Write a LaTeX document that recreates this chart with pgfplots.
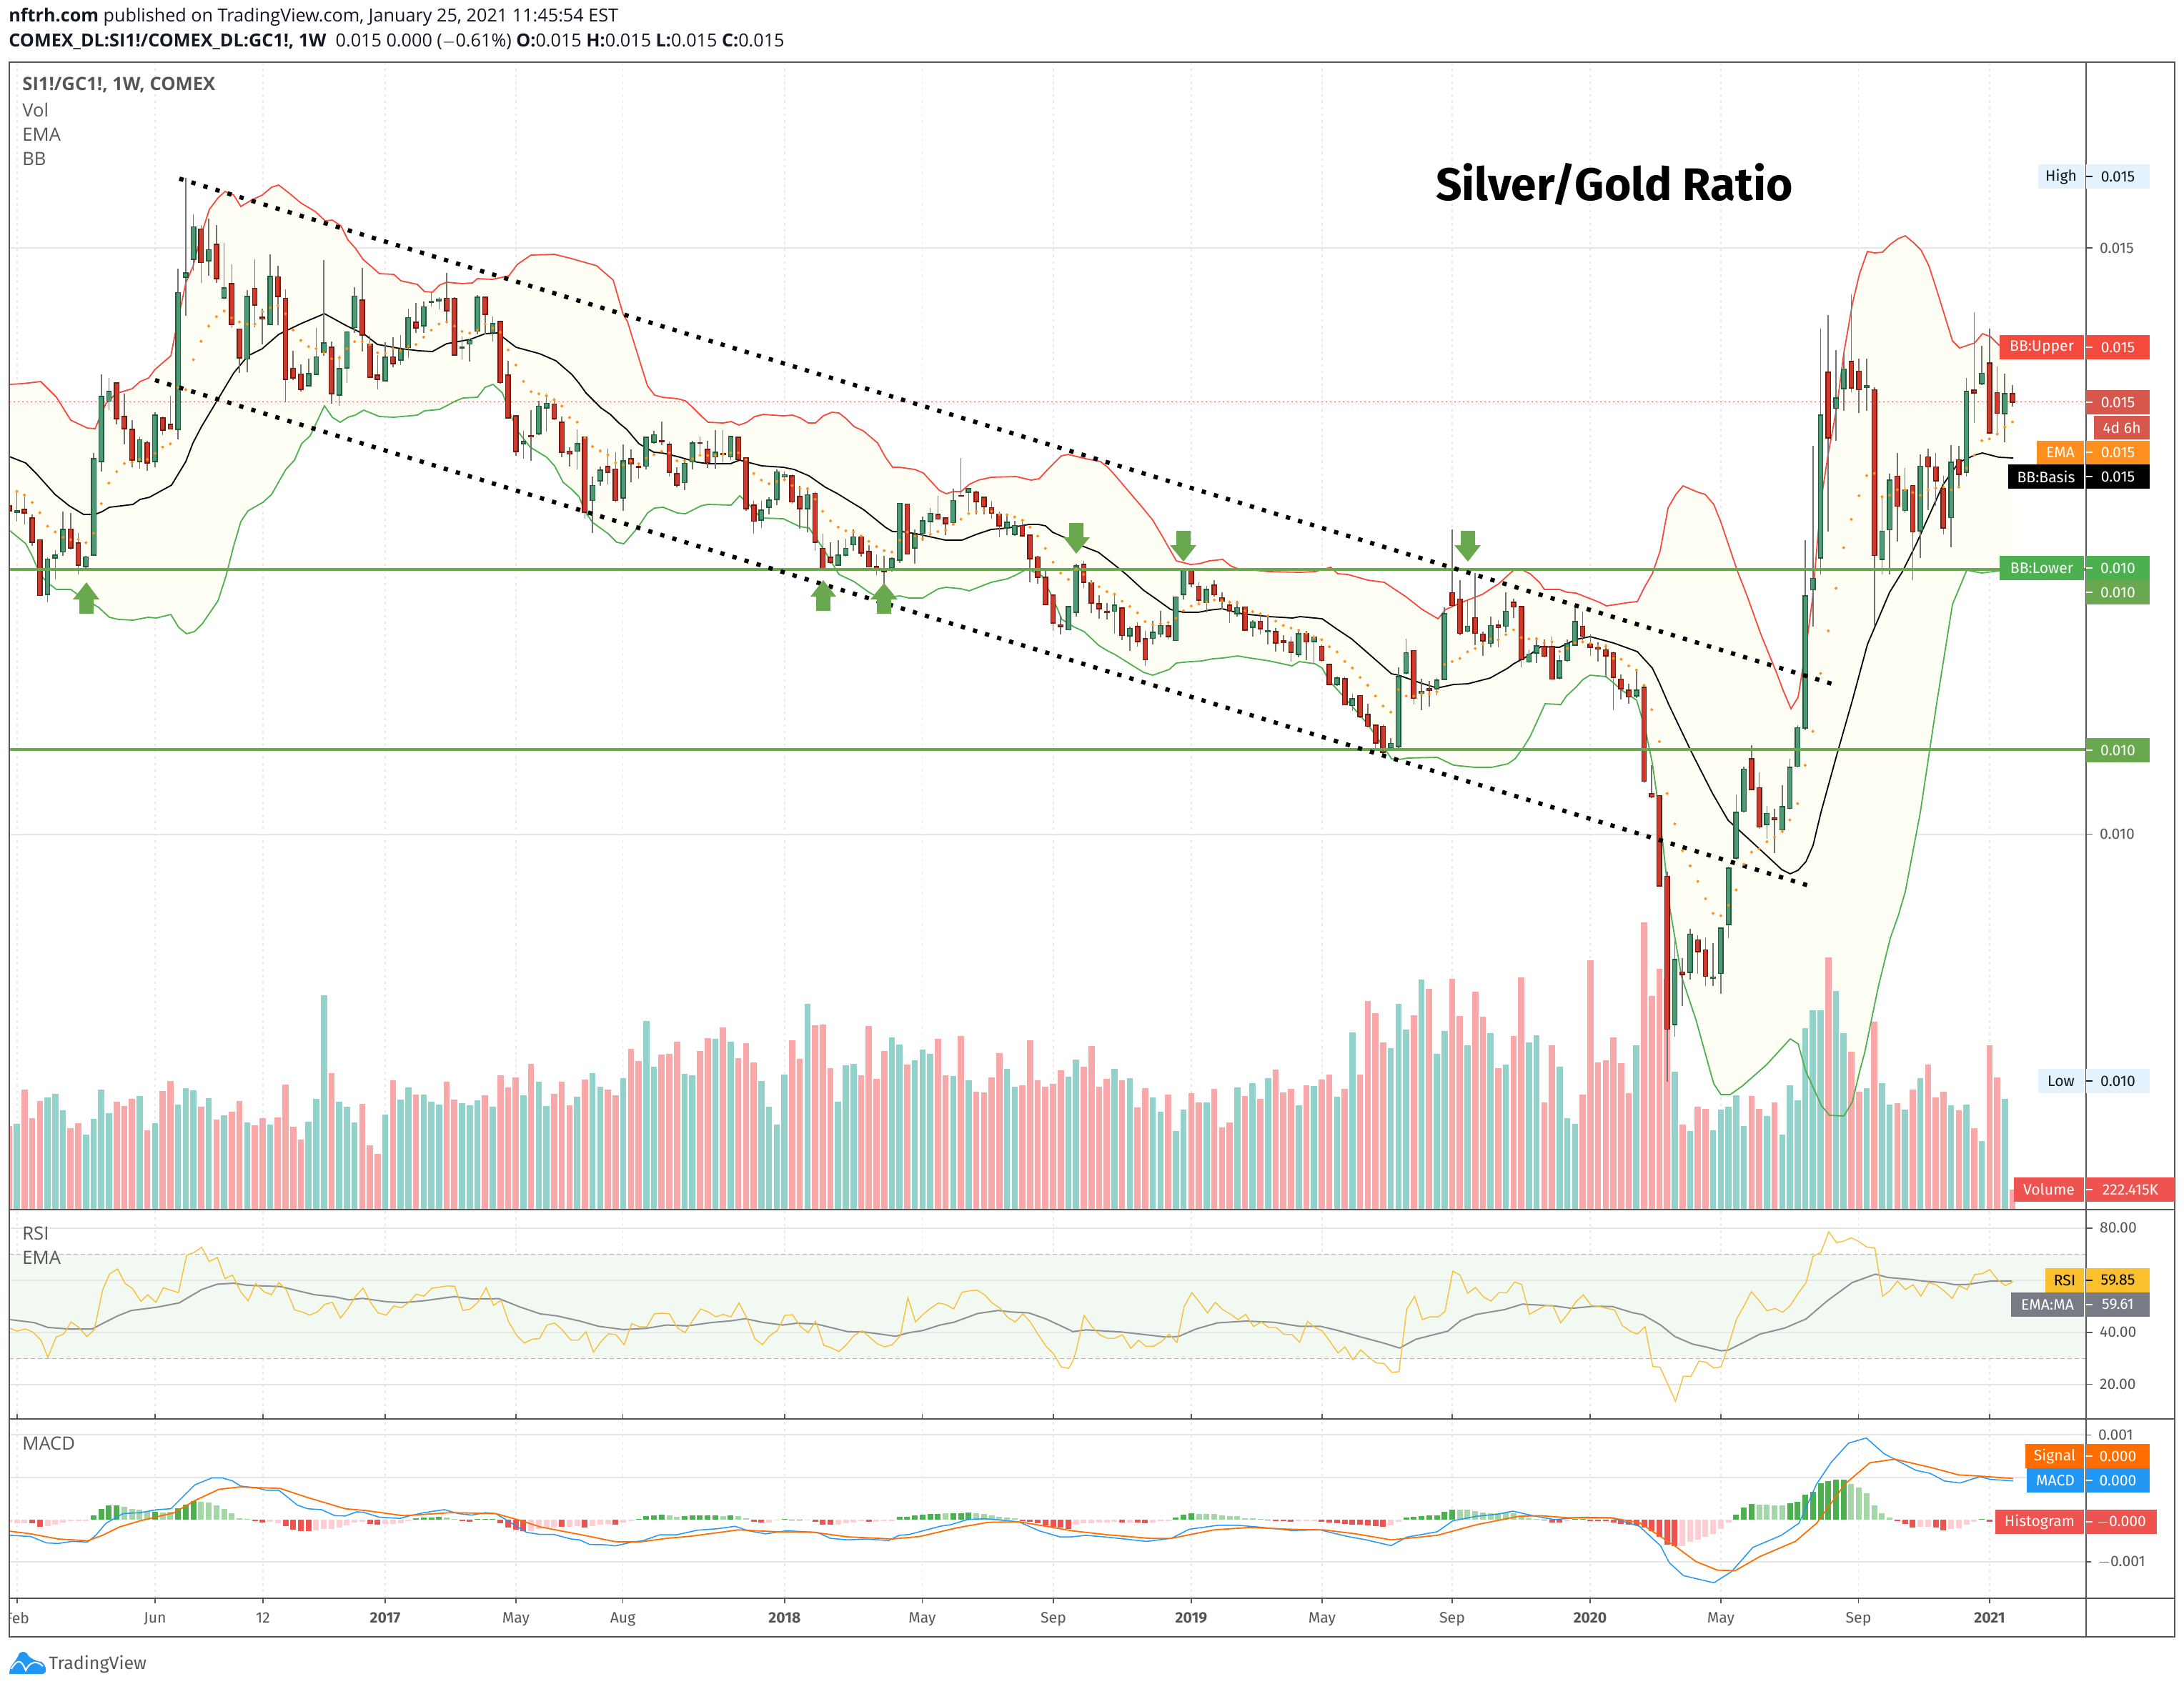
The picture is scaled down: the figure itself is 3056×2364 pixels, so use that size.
\documentclass[border=0pt]{standalone}
\usepackage{fontspec}
\setmainfont{Fira Sans}
\newfontfamily\hdr{Open Sans}
\usepackage{pgfplots}
\usepackage{pgfplotstable}
\pgfplotsset{compat=1.18}
\definecolor{upF}{HTML}{4F9A74}\definecolor{upB}{HTML}{1F5A3C}
\definecolor{dnF}{HTML}{D03A2C}\definecolor{dnB}{HTML}{6E1A12}
\definecolor{wick}{HTML}{737373}
\definecolor{volU}{HTML}{92D2CB}\definecolor{volD}{HTML}{F8A8A8}
\definecolor{bbU}{HTML}{F44A3E}\definecolor{bbL}{HTML}{4CAF50}\definecolor{bbF}{HTML}{FFFEF5}
\definecolor{ema}{HTML}{FF8F1F}\definecolor{gline}{HTML}{6AA84F}
\definecolor{frame}{HTML}{555555}\definecolor{gridc}{HTML}{E6E6E6}
\definecolor{tv}{HTML}{555555}\definecolor{rsi}{HTML}{F6BF36}\definecolor{rsiE}{HTML}{8E9094}
\definecolor{rsiF}{HTML}{F2F9F2}\definecolor{macd}{HTML}{2196F3}\definecolor{sig}{HTML}{FF6D00}
\definecolor{h1}{HTML}{4CAF50}\definecolor{h2}{HTML}{A5D6A7}\definecolor{h3}{HTML}{EF5350}\definecolor{h4}{HTML}{FFCDD2}
\pgfplotstableread{
k o h l c e v
-1 1233 1233 1245 1245 1185 678
0 1250 1195 1272 1245 1198 669
1 1242 1205 1278 1251 1207 525
2 1263 1255 1330 1322 1225 645
3 1316 1316 1452 1452 1250 573
4 1449 1358 1468 1363 1283 558
5 1360 1342 1413 1353 1297 543
6 1346 1247 1355 1291 1310 612
7 1290 1250 1340 1336 1316 687
8 1324 1300 1400 1378 1315 666
9 1381 1355 1392 1358 1323 714
10 1354 1105 1355 1118 1300 648
11 1125 912 1150 967 1228 525
12 978 922 1000 955 1178 624
13 934 934 1035 1021 1150 576
14 1016 960 1083 1045 1130 594
15 1047 1025 1140 1122 1128 564
16 1125 1065 1142 1072 1120 552
17 1079 1075 1148 1129 1120 696
18 1125 1005 1140 1012 1105 666
19 1019 1015 1060 1049 1090 531
20 1035 965 1046 1046 1082 489
21 1047 655 1072 713 945 588
22 676 433 770 665 950 519
23 632 522 660 553 877 528
24 558 548 690 640 832 597
25 636 533 673 609 795 561
26 596 548 690 679 772 651
27 726 593 730 702 758 633
28 692 645 800 791 775 618
29 802 802 910 873 785 573
30 875 708 907 723 790 663
31 703 632 797 744 790 675
32 773 752 840 777 760 645
33 791 620 792 674 750 672
34 675 648 793 723 745 642
35 727 705 980 925 765 504
36 898 855 927 921 805 681
37 912 888 955 949 830 735
38 941 875 943 911 845 660
39 913 800 915 870 850 564
40 859 634 868 836 860 129
41 847 832 985 960 875 456
42 963 868 990 899 872 576
43 897 808 933 809 850 597
44 799 700 812 722 833 663
45 732 654 857 817 833 585
46 839 818 920 920 840 759
47 915 865 950 925 860 795
48 928 835 930 871 862 630
49 870 822 895 887 850 486
50 878 817 890 853 855 567
51 847 752 873 774 845 516
52 786 738 812 800 840 546
53 794 735 812 748 822 546
54 738 710 748 734 805 576
55 733 725 755 729 790 588
56 727 666 786 758 785 492
57 727 725 866 866 795 567
58 849 820 877 847 808 582
59 839 825 882 830 812 591
60 806 720 815 725 805 570
61 725 725 815 766 790 549
62 811 772 833 789 800 597
63 784 782 935 933 810 465
64 915 880 1020 1019 853 516
65 1014 1012 1112 1101 890 474
66 1082 1050 1118 1077 930 549
67 1062 1000 1123 1065 955 417
68 1057 978 1060 990 960 492
69 995 960 1052 983 965 594
70 985 970 1025 1021 975 543
71 1029 1015 1115 1103 990 492
72 1100 1090 1138 1107 1018 591
}\secA
\pgfplotstableread{
k o h l c e v
73 474 395 540 446 368 555
74 423 423 720 698 425 483
75 654 568 773 600 457 456
76 583 530 600 543 473 513
77 530 465 595 552 488 525
78 540 478 662 654 517 549
79 646 450 693 509 525 477
80 501 468 588 521 510 354
81 530 515 575 533 520 405
82 529 420 540 423 500 237
83 442 400 448 414 487 429
84 436 366 452 439 475 378
85 449 440 566 552 480 375
86 556 533 605 599 509 324
87 589 503 616 519 510 459
88 513 437 541 444 502 465
89 443 420 490 445 489 363
90 467 436 535 516 490 309
91 495 397 537 478 490 312
92 484 397 515 487 485 264
93 495 418 507 420 480 324
94 423 423 507 505 480 393
95 499 499 692 685 505 330
96 671 655 775 730 556 411
97 727 655 755 689 580 489
98 680 643 705 653 593 597
99 651 542 672 550 585 672
100 568 548 585 560 578 462
101 564 558 665 660 600 318
102 640 602 757 685 610 396
103 685 605 772 634 612 165
104 628 622 840 808 650 255
105 830 776 907 905 694 252
106 862 808 885 881 729 435
107 891 800 893 854 752 576
108 855 793 860 830 765 423
109 816 760 840 788 770 417
110 788 780 860 847 785 465
111 841 818 900 897 804 258
112 896 853 928 907 823 480
113 911 858 960 915 838 363
114 902 862 915 867 843 306
115 873 665 882 665 800 336
116 668 668 852 850 770 420
117 829 760 885 778 785 402
118 775 712 803 729 795 357
119 732 683 780 702 778 375
120 705 638 725 722 768 312
121 718 718 780 740 763 465
122 735 612 745 655 742 468
123 636 500 640 639 723 300
124 625 610 695 611 702 486
125 624 618 705 659 695 534
126 642 640 705 677 690 537
127 681 657 720 701 695 474
128 705 695 790 748 705 372
129 755 710 780 734 707 438
130 779 728 785 746 715 513
131 746 722 787 784 727 507
132 781 781 953 868 752 318
133 861 856 960 936 785 486
134 935 910 1036 1035 830 513
135 1000 1000 1132 1103 880 501
136 1109 1077 1145 1116 920 444
137 1127 1040 1130 1042 943 471
138 1063 885 1078 893 905 399
139 888 875 975 954 925 429
140 956 947 1065 1030 955 342
141 1032 1002 1086 1051 970 513
142 1059 1030 1090 1064 988 480
143 1059 995 1142 1037 997 438
144 1047 1045 1165 1148 1023 486
145 1150 1117 1205 1122 1042 477
146 1115 1100 1188 1171 1065 600
}\secB
\pgfplotstableread{
k o h l c e v
147 403 385 465 451 363 519
148 402 362 415 388 370 558
149 392 338 400 372 367 618
150 373 365 405 398 365 546
151 407 306 408 306 355 699
152 300 240 312 240 338 609
153 245 245 283 276 327 540
154 281 272 320 313 322 579
155 319 280 342 289 318 579
156 279 267 305 301 313 522
157 308 295 335 316 315 684
158 325 315 366 338 318 663
159 345 315 352 331 320 516
160 329 328 385 383 338 552
161 376 360 398 364 340 498
162 362 345 392 379 345 564
163 387 350 415 384 350 477
164 386 377 433 412 362 441
165 408 394 433 411 372 537
166 410 398 456 434 378 522
167 439 382 445 391 383 591
168 390 385 452 410 390 507
169 409 395 460 399 400 510
170 420 415 455 453 405 483
171 462 460 510 508 421 462
172 508 490 512 493 433 555
173 495 490 555 555 455 522
174 557 530 570 541 470 285
175 534 533 585 582 492 462
176 577 553 607 605 510 153
177 602 602 660 643 535 204
178 605 600 668 665 558 327
179 654 632 658 644 572 351
180 652 468 655 490 520 165
181 482 402 485 435 535 273
182 430 430 555 540 535 213
183 529 495 568 524 530 63
184 518 500 560 521 530 102
185 518 493 533 498 525 375
186 497 330 498 345 462 279
187 296 150 330 326 455 60
188 311 267 395 390 448 216
189 385 315 387 374 433 339
190 354 250 418 390 425 114
191 392 386 442 408 415 219
192 413 352 423 372 403 288
193 371 360 422 377 405 435
194 374 295 388 339 393 420
195 318 310 355 329 382 300
196 328 328 468 450 400 54
197 456 428 458 438 403 327
198 436 400 458 419 403 297
199 421 405 445 443 412 579
200 421 398 497 496 410 339
201 493 440 497 454 432 429
202 453 405 455 414 425 645
203 417 327 418 363 412 669
204 374 340 410 397 410 546
205 415 392 442 422 413 -18
206 423 410 455 426 420 411
207 428 415 492 442 420 402
208 435 432 568 492 448 306
209 496 485 542 518 450 414
210 521 507 552 537 465 540
211 535 472 540 521 475 339
212 515 514 736 732 510 -177
213 760 695 770 768 566 132
214 765 765 974 973 640 18
215 951 940 1425 1304 760 60
216 1294 1100 1322 1143 830 450
217 1172 1140 1250 1178 892 672
218 1173 1072 1190 1085 927 699
219 1098 1088 1177 1125 963 597
220 1121 1092 1205 1182 1003 606
221 1187 1105 1205 1184 1037 696
}\secC
\pgfplotstableread{
k o h l c e v
222 1415 1330 1452 1332 1309 609
223 1325 1220 1350 1222 1290 597
224 1204 1088 1206 1120 1262 549
225 1118 1037 1120 1041 1215 678
226 1022 997 1080 1078 1193 552
227 1075 1047 1150 1147 1187 606
228 1142 1108 1168 1122 1174 636
229 1130 1113 1195 1133 1165 579
230 1152 1070 1158 1110 1155 714
231 1113 1022 1115 1038 1134 507
232 1036 960 1038 965 1104 570
233 966 622 970 724 1034 267
234 713 450 780 692 972 192
235 655 235 685 393 866 192
236 315 210 607 435 788 -30
237 381 275 440 362 710 111
238 345 280 385 309 636 288
239 295 173 352 344 584 366
240 313 290 390 347 541 534
241 343 290 385 340 504 519
242 347 343 780 650 500 240
243 657 540 685 606 543 498
244 603 500 685 512 540 588
245 505 463 625 560 530 582
246 568 490 572 530 530 609
247 522 522 695 607 535 525
248 605 465 655 487 540 477
249 470 455 567 488 530 420
250 488 463 560 514 527 558
251 528 505 612 600 525 534
252 581 448 635 480 530 591
253 475 450 527 502 525 612
254 498 325 506 350 490 588
255 348 205 408 353 467 687
256 336 267 338 317 440 741
257 298 235 428 426 437 339
258 352 305 430 390 428 474
259 391 317 443 354 415 564
260 354 338 378 370 406 945
}\secD
\pgfplotstableread[row sep=\\]{x y\\13 538\\31 537\\57 534\\79 556\\99 588\\122 599\\133 600\\148 565\\162 551\\185 544\\196 534\\208 529\\217 517\\239 498\\249 448\\260 396\\270 373\\282 327\\293 293\\305 277\\315 268\\327 273\\337 289\\352 280\\367 273\\380 262\\390 259\\403 269\\421 284\\441 296\\455 309\\465 308\\477 316\\487 336\\497 347\\508 363\\531 383\\551 384\\561 393\\584 398\\594 408\\605 409\\615 399\\625 395\\647 397\\661 396\\668 390\\689 391\\712 386\\724 370\\743 357\\776 356\\800 362\\835 372\\858 392\\872 440\\878 450\\891 492\\906 540\\916 553\\927 556\\948 558\\959 561\\968 569\\981 582\\991 591\\1012 592\\1023 590\\1034 595\\1045 591\\1056 583\\1068 580\\1096 582\\1109 581\\1120 585\\1131 592\\1141 592\\1152 582\\1164 577\\1174 578\\1184 586\\1195 597\\1208 603\\1228 620\\1239 640\\1249 654\\1259 654\\1280 657\\1292 662\\1314 686\\1324 691\\1334 688\\1345 688\\1356 678\\1369 672\\1387 668\\1422 667\\1443 672\\1454 670\\1468 655\\1485 638\\1495 636\\1519 642\\1540 646\\1550 654\\1560 665\\1600 712\\1613 728\\1626 750\\1646 785\\1666 790\\1678 789\\1692 785\\1711 783\\1722 792\\1732 796\\1776 800\\1819 801\\1840 800\\1862 794\\1872 803\\1886 804\\1914 812\\1937 815\\1967 835\\1990 853\\2012 866\\2023 853\\2043 844\\2074 832\\2097 817\\2118 798\\2131 798\\2141 803\\2154 815\\2161 825\\2182 825\\2193 829\\2205 830\\2238 843\\2248 848\\2268 845\\2281 843\\2291 842\\2302 820\\2312 803\\2323 771\\2334 711\\2345 692\\2355 680\\2376 689\\2386 692\\2398 706\\2408 731\\2431 799\\2445 835\\2464 888\\2486 942\\2495 966\\2506 992\\2516 976\\2527 907\\2536 839\\2548 701\\2558 636\\2570 571\\2580 494\\2592 425\\2602 383\\2613 352\\2623 354\\2634 353\\2645 342\\2656 334\\2666 330\\2678 340\\2688 350\\2699 372\\2710 406\\2732 477\\2742 487\\2763 480\\2774 467\\2785 471\\2797 483\\2817 488\\}\tabU
\pgfplotstableread[row sep=\\]{x y\\13 742\\36 761\\45 778\\56 804\\66 815\\79 825\\99 825\\117 838\\138 850\\153 864\\166 867\\186 868\\207 864\\219 865\\239 860\\250 878\\261 887\\272 884\\283 873\\305 841\\316 807\\327 764\\337 730\\347 715\\368 703\\380 692\\400 657\\412 644\\422 621\\434 610\\454 568\\465 584\\476 591\\487 584\\497 581\\509 574\\531 583\\551 584\\584 581\\594 575\\615 573\\638 561\\648 557\\668 556\\679 542\\690 538\\703 550\\712 574\\724 603\\742 626\\765 640\\776 652\\788 675\\800 685\\810 695\\820 718\\829 731\\851 747\\863 759\\873 761\\892 739\\906 718\\916 711\\928 710\\948 718\\959 719\\981 708\\990 706\\1023 707\\1035 694\\1045 703\\1065 725\\1096 726\\1119 737\\1132 739\\1152 768\\1174 804\\1195 814\\1216 829\\1231 837\\1259 834\\1272 837\\1291 837\\1313 824\\1324 822\\1345 824\\1356 827\\1387 815\\1410 810\\1423 804\\1438 796\\1458 806\\1473 837\\1486 867\\1502 877\\1517 884\\1537 903\\1550 911\\1560 916\\1576 926\\1600 941\\1613 945\\1636 937\\1646 928\\1666 926\\1682 925\\1697 922\\1711 921\\1732 918\\1743 920\\1776 925\\1808 932\\1818 926\\1840 929\\1850 935\\1860 953\\1882 977\\1914 1014\\1937 1047\\1947 1062\\1957 1063\\1970 1061\\2011 1060\\2034 1071\\2064 1074\\2087 1074\\2110 1069\\2120 1062\\2133 1044\\2141 1031\\2162 985\\2184 986\\2192 974\\2205 962\\2215 951\\2225 945\\2247 947\\2258 956\\2268 965\\2290 980\\2302 1020\\2312 1068\\2319 1117\\2327 1183\\2337 1274\\2353 1367\\2373 1427\\2398 1517\\2408 1532\\2421 1532\\2438 1520\\2472 1490\\2505 1454\\2516 1461\\2527 1500\\2549 1548\\2560 1561\\2580 1562\\2592 1542\\2602 1500\\2609 1474\\2628 1382\\2645 1313\\2656 1282\\2666 1248\\2687 1137\\2710 984\\2732 846\\2752 798\\2773 802\\2797 799\\2817 789\\}\tabL
\pgfplotstableread[row sep=\\]{x y\\13 639\\36 648\\51 663\\77 692\\97 708\\117 720\\133 720\\143 716\\153 710\\186 706\\196 699\\209 696\\240 679\\260 646\\270 620\\282 597\\306 557\\327 522\\347 498\\367 488\\390 468\\421 453\\454 439\\485 456\\510 468\\528 482\\561 488\\587 491\\605 492\\625 481\\658 475\\679 467\\696 466\\722 486\\755 495\\778 505\\800 524\\810 536\\820 550\\841 571\\854 580\\866 592\\877 601\\894 621\\915 633\\927 634\\948 639\\976 647\\991 649\\1022 649\\1035 644\\1066 652\\1096 654\\1111 657\\1132 666\\1155 682\\1172 691\\1193 704\\1208 713\\1239 738\\1249 744\\1262 744\\1282 747\\1323 756\\1346 756\\1366 748\\1387 741\\1410 739\\1440 734\\1453 734\\1463 736\\1473 745\\1489 752\\1514 764\\1537 773\\1560 791\\1576 804\\1600 826\\1620 840\\1638 853\\1656 857\\1677 857\\1692 854\\1710 852\\1738 859\\1776 863\\1809 865\\1819 863\\1850 866\\1870 880\\1891 894\\1914 914\\1947 943\\1957 945\\1988 956\\2011 963\\2034 958\\2054 957\\2085 949\\2110 935\\2118 929\\2138 918\\2156 905\\2182 906\\2205 895\\2225 891\\2258 900\\2291 912\\2312 935\\2322 956\\2335 986\\2367 1053\\2396 1110\\2418 1148\\2440 1168\\2464 1190\\2493 1217\\2505 1223\\2516 1218\\2527 1206\\2537 1183\\2548 1137\\2570 1057\\2592 980\\2613 902\\2644 829\\2662 800\\2681 762\\2700 720\\2719 678\\2741 647\\2763 637\\2774 634\\2797 640\\2817 641\\}\tabB
\pgfplotstableread[row sep=\\]{x y\\14 375\\25 385\\37 378\\48 388\\60 415\\70 472\\82 405\\93 395\\104 355\\115 372\\127 403\\138 380\\150 250\\160 197\\172 180\\183 228\\194 245\\206 287\\216 265\\228 290\\239 242\\250 250\\261 258\\273 135\\284 125\\295 108\\306 155\\318 142\\329 212\\340 200\\352 255\\363 285\\374 228\\386 255\\397 265\\408 225\\419 250\\431 315\\442 322\\453 332\\464 322\\475 297\\486 290\\498 342\\509 310\\520 270\\531 243\\542 290\\553 325\\565 332\\576 302\\587 308\\598 290\\609 263\\620 270\\632 243\\643 240\\654 236\\665 237\\677 317\\688 312\\699 290\\711 242\\722 300\\733 283\\744 355\\756 400\\767 425\\778 412\\789 410\\800 365\\811 358\\822 380\\835 415\\846 415\\857 387\\868 455\\879 420\\890 394\\901 397\\913 430\\924 360\\935 371\\946 371\\957 328\\968 326\\979 328\\991 375\\1002 390\\1013 350\\1025 312\\1036 322\\1047 338\\1058 330\\1069 338\\1081 292\\1092 340\\1104 410\\1115 430\\1126 400\\1137 383\\1148 333\\1159 331\\1171 370\\1182 390\\1193 352\\1205 432\\1216 440\\1227 453\\1238 430\\1249 400\\1261 384\\1272 405\\1283 427\\1294 437\\1305 430\\1317 400\\1328 275\\1339 355\\1350 330\\1362 308\\1373 292\\1384 298\\1395 312\\1407 257\\1418 252\\1429 250\\1440 265\\1451 292\\1463 310\\1474 340\\1485 355\\1496 328\\1507 355\\1518 395\\1530 435\\1541 460\\1552 503\\1563 508\\1568 490\\}\rsiA
\pgfplotstableread[row sep=\\]{x y\\0 490\\6 450\\17 333\\28 370\\39 397\\50 409\\60 409\\71 397\\83 442\\94 415\\104 435\\115 435\\126 420\\137 395\\148 423\\158 305\\169 258\\180 290\\191 325\\202 290\\213 315\\223 328\\234 347\\245 330\\256 370\\267 355\\277 373\\288 373\\299 396\\310 396\\321 422\\332 353\\342 372\\353 385\\364 420\\375 457\\385 437\\396 480\\407 447\\418 470\\429 490\\440 492\\451 521\\461 519\\472 313\\483 270\\494 347\\505 338\\516 338\\526 320\\537 187\\547 200\\558 260\\569 241\\580 272\\591 286\\602 258\\613 258\\624 223\\634 231\\645 330\\656 315\\667 301\\678 301\\689 358\\700 325\\710 290\\721 265\\732 300\\743 303\\754 310\\765 315\\776 367\\787 385\\797 395\\808 370\\819 502\\829 504\\840 560\\851 617\\862 534\\873 534\\884 484\\894 488\\905 507\\915 503\\926 430\\937 345\\948 300\\958 255\\969 285\\980 318\\991 310\\1002 323\\1013 300\\1024 260\\1035 225\\1045 138\\1056 125\\1067 57\\1078 93\\1088 88\\1099 77\\1110 90\\1121 108\\1132 110\\1143 270\\1153 252\\1164 220\\1175 248\\1186 232\\1197 270\\1208 225\\1219 233\\1230 253\\1241 277\\1251 235\\1262 248\\1273 198\\1284 195\\1294 182\\1305 215\\1316 235\\1327 222\\}\rsiB
\pgfplotstableread[row sep=\\]{x y\\14 347\\50 357\\70 373\\100 378\\135 378\\150 360\\172 335\\192 317\\230 306\\262 292\\295 248\\318 230\\342 227\\362 234\\410 238\\460 265\\490 272\\510 282\\530 277\\565 288\\590 291\\620 285\\665 271\\690 279\\730 278\\760 305\\790 328\\815 335\\850 353\\875 369\\912 380\\945 376\\975 365\\1005 368\\1040 357\\1070 351\\1090 344\\1115 356\\1145 365\\1165 359\\1195 362\\1240 387\\1265 388\\1310 402\\1330 390\\1350 383\\1375 365\\1395 356\\1430 327\\1460 317\\1480 322\\1505 325\\1530 345\\1568 385\\}\remaA
\pgfplotstableread[row sep=\\]{x y\\0 387\\20 381\\70 388\\100 396\\130 404\\150 403\\175 378\\205 358\\245 352\\285 356\\320 369\\350 369\\375 383\\405 403\\440 425\\462 441\\485 412\\530 385\\548 350\\570 330\\610 314\\635 296\\680 302\\705 310\\735 303\\762 304\\790 324\\805 331\\830 365\\850 403\\875 428\\895 438\\915 450\\925 448\\945 425\\970 395\\1005 375\\1035 345\\1065 285\\1100 225\\1133 197\\1150 208\\1185 215\\1200 220\\1230 225\\1245 232\\1262 231\\1295 220\\1325 220\\}\remaB
\pgfplotstableread[row sep=\\]{x y\\14 1060\\45 1064\\68 1085\\85 1087\\105 1080\\128 1082\\140 1060\\155 1020\\180 988\\205 985\\230 975\\250 972\\285 893\\310 870\\325 870\\340 880\\352 897\\375 903\\390 911\\408 911\\435 960\\450 972\\470 975\\490 995\\505 996\\522 982\\532 984\\555 1000\\585 1004\\600 995\\620 985\\650 975\\670 988\\690 993\\710 985\\725 988\\745 1015\\770 1050\\790 1057\\810 1057\\835 1072\\848 1075\\862 1090\\885 1091\\900 1095\\925 1082\\940 1078\\965 1058\\990 1058\\1020 1043\\1050 1038\\1075 1030\\1095 1045\\1120 1055\\1150 1045\\1195 1050\\1215 1070\\1240 1075\\1265 1072\\1300 1077\\1315 1060\\1330 1057\\1375 1030\\1390 1025\\1415 1008\\1440 1005\\1490 1015\\1520 1045\\1550 1065\\1568 1065\\}\macdA
\pgfplotstableread[row sep=\\]{x y\\0 1065\\20 1060\\50 1066\\105 1080\\140 1070\\165 1040\\205 1027\\235 1027\\265 1033\\310 1044\\350 1042\\385 1062\\415 1075\\450 1094\\472 1066\\515 1048\\537 1012\\570 997\\600 990\\622 980\\650 995\\680 1008\\720 1000\\760 1002\\800 1030\\830 1095\\842 1150\\862 1193\\905 1217\\930 1180\\960 1100\\1000 1060\\1025 1020\\1050 890\\1070 820\\1095 755\\1120 738\\1145 790\\1190 845\\1210 855\\1230 880\\1252 887\\1280 866\\1295 875\\1327 880\\}\macdB
\pgfplotstableread[row sep=\\]{x y\\14 1046\\45 1055\\85 1072\\128 1078\\150 1060\\175 1032\\205 1012\\255 985\\285 945\\320 908\\350 900\\410 905\\450 935\\505 972\\535 978\\590 995\\625 990\\660 985\\725 988\\760 1010\\790 1032\\850 1058\\900 1081\\935 1082\\975 1070\\1010 1063\\1080 1042\\1135 1048\\1190 1050\\1240 1065\\1305 1072\\1345 1064\\1400 1035\\1445 1017\\1490 1015\\1530 1030\\1568 1045\\}\sigA
\pgfplotstableread[row sep=\\]{x y\\0 1045\\50 1058\\110 1070\\140 1070\\200 1042\\250 1034\\310 1040\\355 1042\\400 1055\\450 1075\\515 1060\\570 1025\\630 997\\660 995\\700 1002\\760 1002\\800 1018\\850 1095\\880 1147\\910 1175\\935 1177\\970 1130\\1020 1080\\1050 1020\\1090 890\\1125 820\\1160 808\\1210 835\\1250 860\\1285 865\\1327 872\\}\sigB
\pgfplotstableread[row sep=\\]{k z t\\-1 1018 4\\0 1020 4\\1 1020 4\\2 1020 3\\3 1032 3\\4 1030 4\\5 1025 4\\6 1018 4\\7 1014 4\\8 1014 4\\9 1012 4\\10 995 1\\11 973 1\\12 961 1\\13 961 1\\14 965 2\\15 972 2\\16 975 2\\17 980 2\\18 983 1\\19 985 2\\20 982 2\\21 970 1\\22 958 1\\23 946 1\\24 950 2\\25 952 2\\26 960 2\\27 972 2\\28 987 2\\29 1003 2\\30 1005 2\\31 1013 3\\32 1018 3\\33 1016 4\\34 1020 4\\35 1030 3\\36 1042 3\\37 1046 3\\38 1046 3\\39 1043 4\\40 1040 4\\41 1040 4\\42 1035 4\\43 1028 4\\44 1018 4\\45 1015 4\\46 1023 3\\47 1024 3\\48 1022 4\\49 1022 4\\50 1020 4\\51 1012 4\\52 1004 1\\53 1002 1\\54 1000 1\\55 998 1\\56 1000 2\\57 1005 2\\58 1012 3\\59 1015 3\\60 1005 1\\61 1005 1\\62 1005 1\\63 1019 3\\64 1035 3\\65 1042 3\\66 1045 3\\67 1045 4\\68 1040 4\\69 1035 4\\70 1033 4\\71 1032 3\\72 1032 4\\73 1030 4\\74 1034 3\\75 1030 4\\76 1025 4\\77 1022 4\\78 1024 3\\79 1018 4\\80 1012 4\\81 1006 1\\82 997 1\\83 994 1\\84 992 1\\85 995 2\\86 998 2\\87 996 1\\88 994 1\\89 994 1\\90 994 1\\91 994 1\\92 996 2\\93 994 1\\94 997 2\\95 1003 2\\96 1016 3\\97 1017 3\\98 1018 4\\99 1010 4\\100 1005 1\\101 1010 3\\102 1011 3\\103 1010 4\\104 1015 3\\105 1024 3\\106 1025 3\\107 1024 4\\108 1020 4\\109 1017 4\\110 1012 4\\111 1015 3\\112 1015 4\\113 1014 4\\114 1014 4\\115 998 1\\116 998 1\\117 995 1\\118 991 1\\119 989 1\\120 989 1\\121 988 2\\122 987 1\\123 986 1\\124 985 1\\125 988 2\\126 990 2\\127 994 2\\128 998 2\\129 1000 2\\130 1003 2\\131 1012 3\\132 1015 3\\133 1020 3\\134 1028 3\\135 1032 3\\136 1035 3\\137 1038 3\\138 1025 4\\139 1020 4\\140 1020 4\\141 1018 4\\142 1018 4\\143 1015 4\\144 1018 3\\145 1018 4\\146 1018 3\\147 1020 3\\148 1018 4\\149 1013 4\\150 1012 4\\151 1002 1\\152 992 1\\153 987 1\\154 989 2\\155 989 2\\156 989 2\\157 993 2\\158 996 2\\159 997 2\\160 1003 2\\161 1004 2\\162 1005 2\\163 1011 3\\164 1012 3\\165 1013 3\\166 1015 3\\167 1012 4\\168 1012 4\\169 1012 4\\170 1016 3\\171 1018 3\\172 1020 3\\173 1022 3\\174 1024 3\\175 1025 3\\176 1027 3\\177 1030 3\\178 1031 3\\179 1028 4\\180 1015 4\\181 1000 1\\182 998 1\\183 997 1\\184 995 1\\185 993 1\\186 983 1\\187 975 1\\188 975 2\\189 975 2\\190 980 2\\191 985 2\\192 986 2\\193 986 2\\194 985 2\\195 986 2\\196 995 2\\197 1004 2\\198 1005 2\\199 1011 3\\200 1017 3\\201 1018 3\\202 1013 4\\203 1005 1\\204 1005 1\\205 1012 3\\206 1012 3\\207 1014 3\\208 1018 3\\209 1022 3\\210 1024 3\\211 1028 3\\212 1035 3\\213 1046 3\\214 1065 3\\215 1092 3\\216 1095 3\\217 1095 4\\218 1082 4\\219 1075 4\\220 1065 4\\221 1056 4\\222 1040 4\\223 1018 4\\224 992 1\\225 968 1\\226 957 1\\227 959 2\\228 959 2\\229 960 2\\230 962 2\\231 955 1\\232 950 1\\233 925 1\\234 915 1\\235 888 1\\236 880 1\\237 877 1\\238 876 1\\239 890 2\\240 903 2\\241 920 2\\242 962 2\\243 988 2\\244 1000 2\\245 1014 3\\246 1022 3\\247 1033 3\\248 1032 4\\249 1032 4\\250 1035 3\\251 1044 3\\252 1038 4\\253 1036 4\\254 1025 4\\255 1015 4\\256 1006 1\\257 1015 3\\258 1015 4\\259 1012 4\\260 1012 4\\}\histT
\pgfplotstablesort[sort key=x,sort cmp={float >}]{\tabLrev}{\tabL}
\pgfplotstablevertcat{\tabPoly}{\tabU}
\pgfplotstablevertcat{\tabPoly}{\tabLrev}
\pgfplotsset{
  bars/.style 2 args={only marks,mark=*,mark size=0pt,mark options={draw=none,fill=none},forget plot,unbounded coords=discard,error bars/y dir=plus,error bars/y explicit,error bars/error mark=none,error bars/error bar style={draw=#1,line width=#2,solid}},
  barsm/.style 2 args={only marks,mark=*,mark size=0pt,mark options={draw=none,fill=none},forget plot,unbounded coords=discard,error bars/y dir=minus,error bars/y explicit,error bars/error mark=none,error bars/error bar style={draw=#1,line width=#2,solid}},
  tvaxis/.style={scale only axis,width=1453pt,xmin=13,xmax=2919,
    xtick={24,217,368,539,722,871.5,1098,1290.5,1474,1667,1850,2032,2225,2408,2600.5,2784},
    xmajorgrids,x grid style={gridc,line width=.7pt,dash pattern=on 1.5pt off 3pt},
    y grid style={gridc,line width=1pt},ymajorgrids,
    ytick pos=right,yticklabel pos=right,scaled ticks=false,
    axis line style={draw=frame,line width=1pt},
    tick style={draw=frame,line width=.8pt},major tick length=4.5pt,tick align=outside,
    yticklabel style={text=tv,font=\fontsize{10.6}{12}\selectfont,xshift=1.5pt},
    xticklabels={},xtick style={draw=none},clip=true},
}
\newcommand\kx{23.6+10.74*\thisrow{k}}
\newcommand\UP{(\thisrow{c}<\thisrow{o})}
\newcommand\DN{(\thisrow{c}>=\thisrow{o})}
\newcommand\volsec[1]{%
 \addplot[bars={volU}{4.3pt}] table[x expr=\kx,y expr={\UP?(1350+\thisrow{v}/3):nan},y error plus expr={1692-1350-\thisrow{v}/3}]{#1};
 \addplot[bars={volD}{4.3pt}] table[x expr=\kx,y expr={\DN?(1350+\thisrow{v}/3):nan},y error plus expr={1692-1350-\thisrow{v}/3}]{#1};
}
\newcommand\emasec[3]{%
 \addplot[only marks,mark=*,mark size=.85pt,color=ema,mark options={draw=none,fill=ema},forget plot] table[x expr=\kx,y expr={#2+\thisrow{e}/#3}]{#1};
}
\newcommand\candlesec[3]{%
 \addplot[bars={wick}{.8pt}] table[x expr=\kx,y expr={#2+\thisrow{h}/#3},y error plus expr={(\thisrow{l}-\thisrow{h})/#3}]{#1};
 \addplot[bars={upB}{3.9pt}] table[x expr=\kx,y expr={\UP?(#2+min(\thisrow{o},\thisrow{c})/#3-.8):nan},y error plus expr={abs(\thisrow{o}-\thisrow{c})/#3+1.6}]{#1};
 \addplot[bars={dnB}{3.9pt}] table[x expr=\kx,y expr={\DN?(#2+min(\thisrow{o},\thisrow{c})/#3-.8):nan},y error plus expr={abs(\thisrow{o}-\thisrow{c})/#3+1.6}]{#1};
 \addplot[bars={upF}{2.5pt}] table[x expr=\kx,y expr={\UP?(#2+min(\thisrow{o},\thisrow{c})/#3+.8):nan},y error plus expr={max(abs(\thisrow{o}-\thisrow{c})/#3-1.6,0)}]{#1};
 \addplot[bars={dnF}{2.5pt}] table[x expr=\kx,y expr={\DN?(#2+min(\thisrow{o},\thisrow{c})/#3+.8):nan},y error plus expr={max(abs(\thisrow{o}-\thisrow{c})/#3-1.6,0)}]{#1};
}
\newcommand\hist[2]{%
 \addplot[barsm={#2}{4pt}] table[x expr=\kx,y expr={(\thisrow{t}==#1)?max((1008-\thisrow{z})*3.5714e-6,0):nan},y error minus expr={abs((1008-\thisrow{z})*3.5714e-6)}]{\histT};
}
\newcommand\lbl[6]{% x1 y1 x2 y2 colour content
 \fill[#5] (#1,#2) rectangle (#3,#4);\node[anchor=center,inner sep=0pt] at ({(#1+#3)/2},{(#2+#4)/2}) {#6};}
\begin{document}
\begin{tikzpicture}[x=.5pt,y=-.5pt]
\path[use as bounding box] (0,0) rectangle (3056,2364);
\begin{axis}[tvaxis,at={(6.5pt,-43.5pt)},anchor=north west,height=803pt,ymin=87,ymax=1693,y dir=reverse,
  ytick={347,1167.5},yticklabels={0.015,0.010}]
\addplot[fill=bbF,draw=none,forget plot] table[x=x,y=y]{\tabPoly} --cycle;
\volsec{\secA}\volsec{\secB}\volsec{\secC}\volsec{\secD}
\addplot[bbU,line width=.9pt,forget plot] table[x=x,y=y]{\tabU};
\addplot[bbL,line width=.9pt,forget plot] table[x=x,y=y]{\tabL};
\addplot[black,line width=.9pt,forget plot] table[x=x,y=y]{\tabB};
\emasec{\secA}{0}{1.742}\emasec{\secB}{450}{2.613}\emasec{\secC}{650}{1.65}\emasec{\secD}{280}{1.307}
\addplot[h3,line width=.6pt,dash pattern=on 1pt off 2pt,forget plot] coordinates {(13,562.5)(2919,562.5)};
\candlesec{\secA}{0}{1.742}\candlesec{\secB}{450}{2.613}\candlesec{\secC}{650}{1.65}\candlesec{\secD}{280}{1.307}
\addplot[gline,line width=1.8pt,forget plot] coordinates {(13,797)(2919,797)};
\addplot[gline,line width=1.8pt,forget plot] coordinates {(13,1049)(2919,1049)};
\addplot[black,line width=3pt,dash pattern=on 3pt off 5.8pt,forget plot] coordinates {(251,250)(2563,957)};
\addplot[black,line width=3pt,dash pattern=on 3pt off 5.8pt,forget plot] coordinates {(217,532)(2529,1239)};
\addplot[gline,fill=gline,draw=none,forget plot] coordinates {(121,815)(139,839)(131,839)(131,859)(111,859)(111,839)(102,839)} --cycle;
\addplot[gline,fill=gline,draw=none,forget plot] coordinates {(1152,812)(1170,835)(1162,835)(1162,855)(1142,855)(1142,835)(1134,835)} --cycle;
\addplot[gline,fill=gline,draw=none,forget plot] coordinates {(1237,816)(1256,839)(1247,839)(1247,859)(1227,859)(1227,839)(1218,839)} --cycle;
\addplot[gline,fill=gline,draw=none,forget plot] coordinates {(1506,775)(1525,752)(1516,752)(1516,732)(1496,732)(1496,752)(1488,752)} --cycle;
\addplot[gline,fill=gline,draw=none,forget plot] coordinates {(1656,786)(1674,763)(1666,763)(1666,743)(1646,743)(1646,763)(1637,763)} --cycle;
\addplot[gline,fill=gline,draw=none,forget plot] coordinates {(2054,786)(2072,763)(2064,763)(2064,743)(2044,743)(2044,763)(2035,763)} --cycle;
\end{axis}
\begin{axis}[tvaxis,at={(6.5pt,-846.5pt)},anchor=north west,height=146.5pt,ymin=6.74,ymax=87.1,
  ytick={20,40,60,80},yticklabels={20.00,40.00,,80.00}]
\addplot[rsiF,fill=rsiF,draw=none,forget plot] coordinates {(13,70)(2919,70)(2919,30)(13,30)} --cycle;
\addplot[gray!60,line width=.7pt,dash pattern=on 3pt off 2pt,forget plot] coordinates {(13,70)(2919,70)};
\addplot[gray!60,line width=.7pt,dash pattern=on 3pt off 2pt,forget plot] coordinates {(13,30)(2919,30)};
\addplot[gridc,line width=1pt,forget plot] coordinates {(13,60)(2919,60)};
\addplot[gridc,line width=1pt,forget plot] coordinates {(13,40)(2919,40)};
\addplot[rsiE,line width=1pt,forget plot] table[x expr=\thisrow{x}/1.0453,y expr=80-(\thisrow{y}-45)/8.6]{\remaA};
\addplot[rsiE,line width=1pt,forget plot] table[x expr=1500+\thisrow{x}/1.0077,y expr=80-(\thisrow{y}-45)/8.6]{\remaB};
\addplot[rsi,line width=.7pt,forget plot] table[x expr=\thisrow{x}/1.0453,y expr=80-(\thisrow{y}-45)/8.6]{\rsiA};
\addplot[rsi,line width=.7pt,forget plot] table[x expr=1500+\thisrow{x}/1.0077,y expr=80-(\thisrow{y}-45)/8.6]{\rsiB};
\end{axis}
\begin{axis}[tvaxis,at={(6.5pt,-993pt)},anchor=north west,height=125.5pt,ymin=-0.000929,ymax=0.001189,
  ytick={-0.0005,0.0005,0.001},yticklabels={$-$0.001,,0.001},
  xtick style={draw=frame,line width=.8pt},major tick length=3.5pt,
  xticklabels={Feb,Jun,12,\textbf{2017},May,Aug,\textbf{2018},May,Sep,\textbf{2019},May,Sep,\textbf{2020},May,Sep,\textbf{2021}},
  xticklabel style={text=tv,font=\fontsize{10.6}{12}\selectfont,yshift=-3pt}]
\hist{1}{h1}\hist{2}{h2}\hist{3}{h3}\hist{4}{h4}
\addplot[macd,line width=.75pt,forget plot] table[x expr=\thisrow{x}/1.0453,y expr=(1008-\thisrow{y})*3.5714e-6]{\macdA};
\addplot[macd,line width=.75pt,forget plot] table[x expr=1500+\thisrow{x}/1.0077,y expr=(1008-\thisrow{y})*3.5714e-6]{\macdB};
\addplot[sig,line width=.9pt,forget plot] table[x expr=\thisrow{x}/1.0453,y expr=(1008-\thisrow{y})*3.5714e-6]{\sigA};
\addplot[sig,line width=.9pt,forget plot] table[x expr=1500+\thisrow{x}/1.0077,y expr=(1008-\thisrow{y})*3.5714e-6]{\sigB};
\end{axis}
% frame
\fill[white] (0,2240) rectangle (12,2290);
\draw[frame,line width=1pt] (13,87) rectangle (3043,2291);
\draw[frame,line width=1pt] (2919,87) -- (2919,2291);
\draw[frame,line width=1pt] (13,1693) -- (3043,1693);
\draw[frame,line width=1pt] (13,1986) -- (3043,1986);
\draw[frame,line width=1pt] (13,2237) -- (3043,2237);
% labels
\newcommand\fs{\fontsize{10.6}{12}\selectfont}
\newcommand\ws[1]{\textcolor{white}{\fs #1}}
\lbl{2798}{469}{2916}{503}{bbU}{\ws{BB:Upper}}
\lbl{2919}{469}{3008}{503}{bbU}{\ws{0.015}}
\lbl{2919}{546}{3008}{580}{dnF!85!white}{\ws{0.015}}
\lbl{2930}{582}{3008}{615}{dnF!85!white}{\ws{4d 6h}}
\lbl{2850}{617}{2916}{650}{ema}{\ws{EMA}}
\lbl{2919}{617}{3008}{650}{ema}{\ws{0.015}}
\lbl{2810}{650}{2916}{684}{black}{\ws{BB:Basis}}
\lbl{2919}{650}{3008}{684}{black}{\ws{0.015}}
\lbl{2798}{778}{2916}{812}{bbL}{\ws{BB:Lower}}
\lbl{2919}{778}{3008}{812}{bbL}{\ws{0.010}}
\lbl{2919}{812}{3008}{846}{gline}{\ws{0.010}}
\lbl{2919}{1033}{3008}{1067}{gline}{\ws{0.010}}
\definecolor{lbl}{HTML}{E3F2FD}\definecolor{dk}{HTML}{131722}
\lbl{2852}{230}{2916}{264}{lbl}{\textcolor{dk}{\fs High}}
\lbl{2919}{230}{3008}{264}{lbl}{\textcolor{dk}{\fs 0.015}}
\lbl{2852}{1496}{2916}{1530}{lbl}{\textcolor{dk}{\fs Low}}
\lbl{2919}{1496}{3008}{1530}{lbl}{\textcolor{dk}{\fs 0.010}}
\lbl{2818}{1648}{2916}{1682}{h3}{\ws{Volume}}
\lbl{2919}{1648}{3043}{1682}{h3}{\ws{222.415K}}
\definecolor{rb}{HTML}{FBC02D}\definecolor{eb}{HTML}{787B86}
\lbl{2862}{1775}{2916}{1809}{rb}{\textcolor{black}{\fs RSI}}
\lbl{2919}{1775}{3008}{1809}{rb}{\textcolor{black}{\fs 59.85}}
\lbl{2814}{1809}{2916}{1843}{eb}{\ws{EMA:MA}}
\lbl{2919}{1809}{3008}{1843}{eb}{\ws{59.61}}
\lbl{2834}{2021}{2916}{2055}{sig}{\ws{Signal}}
\lbl{2919}{2021}{3008}{2055}{sig}{\ws{0.000}}
\lbl{2836}{2055}{2916}{2089}{macd}{\ws{MACD}}
\lbl{2919}{2055}{3008}{2089}{macd}{\ws{0.000}}
\lbl{2792}{2113}{2916}{2147}{h3}{\ws{Histogram}}
\lbl{2919}{2113}{3018}{2147}{h3}{\ws{$-$0.000}}
\foreach \yy/\cc in {486/white,563/white,633/white,667/white,795/white,829/white,1050/white,247/dk,1513/dk,1665/white,1792/dk,1826/white,2038/white,2072/white,2130/white}{\draw[\cc,line width=.8pt] (2919,\yy) -- (2928,\yy);}
% texts
\node[anchor=west,inner sep=0pt,text=tv] at (31,119) {\hdr\fontsize{12.8}{14}\selectfont\bfseries SI1!/GC1!, 1W, COMEX};
\node[anchor=west,inner sep=0pt,text=tv] at (31,154) {\hdr\fontsize{12.8}{14}\selectfont Vol};
\node[anchor=west,inner sep=0pt,text=tv] at (31,188) {\hdr\fontsize{12.8}{14}\selectfont EMA};
\node[anchor=west,inner sep=0pt,text=tv] at (31,222) {\hdr\fontsize{12.8}{14}\selectfont BB};
\node[anchor=west,inner sep=0pt,text=tv] at (31,1726) {\hdr\fontsize{12.8}{14}\selectfont RSI};
\node[anchor=west,inner sep=0pt,text=tv] at (31,1760) {\hdr\fontsize{12.8}{14}\selectfont EMA};
\node[anchor=west,inner sep=0pt,text=tv] at (31,2020) {\hdr\fontsize{12.8}{14}\selectfont MACD};
\node[anchor=west,inner sep=0pt,text=dk] at (12,24) {\hdr\fontsize{12.6}{14}\selectfont\textbf{nftrh.com} published on TradingView.com, January 25, 2021 11:45:54 EST};
\node[anchor=west,inner sep=0pt,text=dk] at (12,58) {\hdr\fontsize{12.6}{14}\selectfont\textbf{COMEX\_DL:SI1!/COMEX\_DL:GC1!, 1W}\ \ 0.015 0.000 ($-$0.61\%) \textbf{O:}0.015 \textbf{H:}0.015 \textbf{L:}0.015 \textbf{C:}0.015};
\node[anchor=center,inner sep=0pt,text=black] at (2259,258) {\fontsize{32}{36}\selectfont\bfseries Silver/Gold Ratio};
% logo
\fill[macd] (13,2343) .. controls (13,2330) and (22,2328) .. (27,2314) .. controls (32,2310) and (38,2312) .. (40,2318) .. controls (45,2322) and (50,2325) .. (58,2326) .. controls (66,2332) and (66,2342) .. (60,2343) -- cycle;
\draw[white,line width=1pt] (16,2336) .. controls (24,2322) and (30,2322) .. (36,2338) .. controls (40,2328) and (50,2322) .. (60,2332);
\node[anchor=west,inner sep=0pt,text=tv] at (68,2329) {\fontsize{12.5}{14}\selectfont TradingView};
\end{tikzpicture}
\end{document}
